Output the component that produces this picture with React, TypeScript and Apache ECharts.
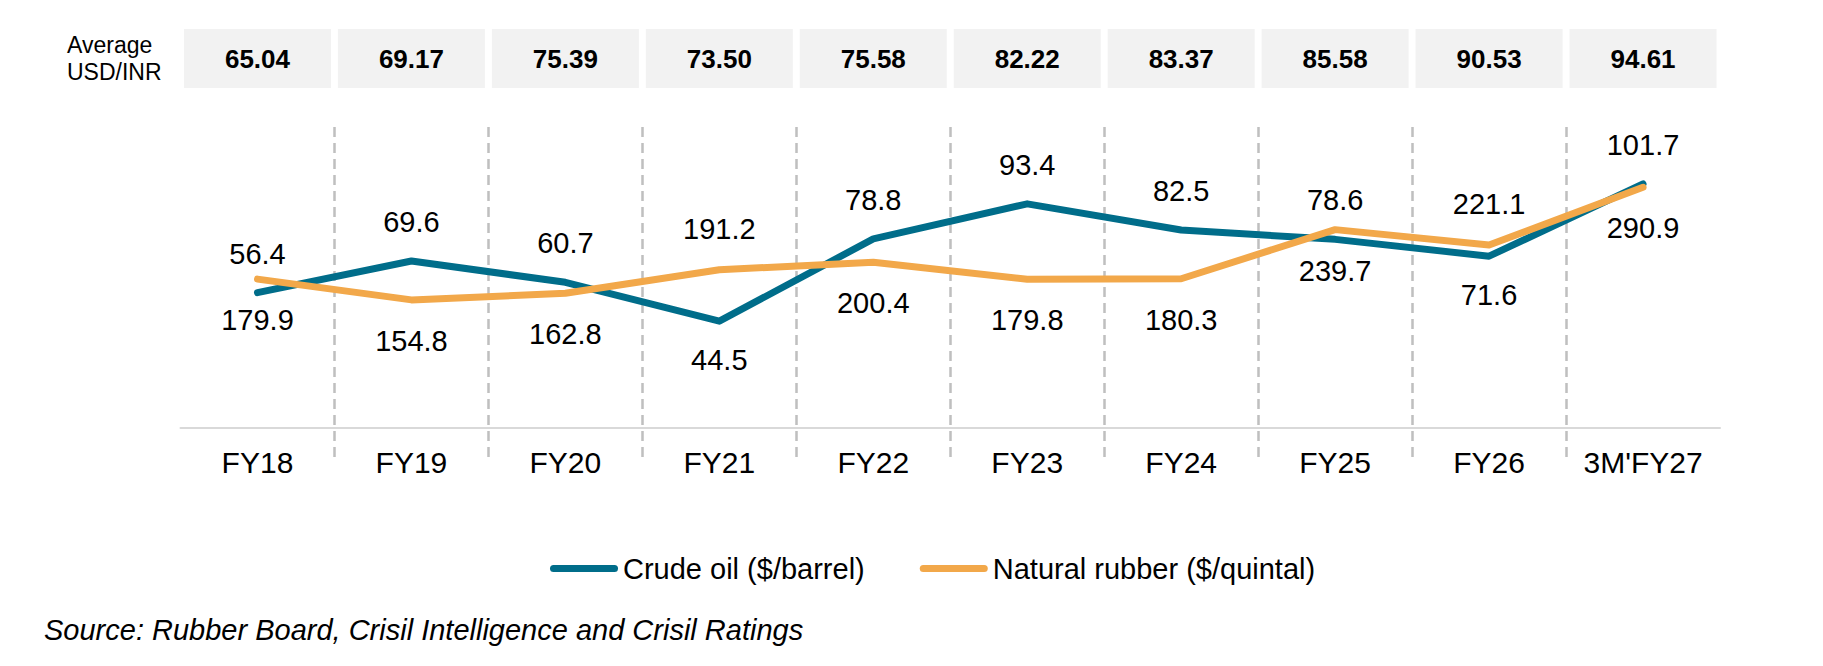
import React, { useEffect, useRef } from "react";
import * as echarts from "echarts";

const categories = ["FY18", "FY19", "FY20", "FY21", "FY22", "FY23", "FY24", "FY25", "FY26", "3M'FY27"];
const crudeOil = [56.4, 69.6, 60.7, 44.5, 78.8, 93.4, 82.5, 78.6, 71.6, 101.7];
const naturalRubber = [179.9, 154.8, 162.8, 191.2, 200.4, 179.8, 180.3, 239.7, 221.1, 290.9];
const usdInr = [65.04, 69.17, 75.39, 73.5, 75.58, 82.22, 83.37, 85.58, 90.53, 94.61];
const crudeLabelsBelow = ["FY21", "FY26"];
const rubberLabelsAbove = ["FY21", "FY26"];
const seriesNames = ["Crude oil ($/barrel)", "Natural rubber ($/quintal)"];

const W = 1823;
const H = 666;
const FONT = "'Liberation Sans', Arial, Helvetica, sans-serif";
const GRID_LEFT = 180.5;
const GRID_RIGHT = 103;
const BAND = (W - GRID_LEFT - GRID_RIGHT) / categories.length;
const CRUDE_COLOR = "#006D8A";
const RUBBER_COLOR = "#F2A84A";

export default function App() {
  const ref = useRef<HTMLDivElement>(null);

  useEffect(() => {
    document.body.style.margin = "0";
    if (!ref.current) return;
    const chart = echarts.init(ref.current, undefined, { renderer: "svg" });

    const labelBase = {
      show: true,
      fontSize: 29,
      color: "#000",
      fontFamily: FONT,
      formatter: (p: any) => Number(p.value).toFixed(1),
    };

    chart.setOption({
      animation: false,
      backgroundColor: "#ffffff",
      textStyle: { fontFamily: FONT },
      grid: [
        { left: GRID_LEFT, right: GRID_RIGHT, top: 140, bottom: 238 },
        { left: GRID_LEFT + BAND, right: GRID_RIGHT + BAND, top: 127, bottom: 206 },
        { left: GRID_LEFT, right: GRID_RIGHT, top: 29, bottom: 578 },
      ],
      xAxis: [
        {
          type: "category",
          gridIndex: 0,
          data: categories,
          boundaryGap: true,
          axisLine: { lineStyle: { color: "#d9d9d9", width: 2 } },
          axisTick: { show: false },
          axisLabel: { fontSize: 30, color: "#000", margin: 19, interval: 0, fontFamily: FONT },
          splitLine: { show: false },
        },
        {
          type: "value",
          gridIndex: 1,
          min: 1,
          max: categories.length - 1,
          interval: 1,
          axisLine: { show: false },
          axisTick: { show: false },
          axisLabel: { show: false },
          splitLine: { show: true, lineStyle: { color: "#bfbfbf", width: 2.5, type: [10, 6] } },
        },
        { type: "category", gridIndex: 2, data: categories, show: false },
      ],
      yAxis: [
        { type: "value", gridIndex: 0, min: 0, max: 120, show: false },
        { type: "value", gridIndex: 0, min: 0, max: 348, show: false, position: "right" },
        { type: "value", gridIndex: 1, min: 0, max: 1, show: false },
        { type: "value", gridIndex: 2, min: 0, max: 1, show: false },
      ],
      legend: {
        data: seriesNames,
        left: 545,
        top: 549,
        itemWidth: 68,
        itemHeight: 7,
        itemGap: 55,
        icon: "path://M3.5,0 L64.5,0 A3.5,3.5 0 0 1 64.5,7 L3.5,7 A3.5,3.5 0 0 1 3.5,0 Z",
        textStyle: { fontSize: 29, color: "#000", fontFamily: FONT },
        selectedMode: false,
      },
      graphic: [
        {
          type: "text",
          x: 67,
          y: 58,
          style: {
            text: "Average\nUSD/INR",
            fontSize: 23,
            lineHeight: 27,
            fill: "#000",
            fontFamily: FONT,
            verticalAlign: "middle",
            align: "left",
          },
        },
        {
          type: "text",
          x: 44,
          y: 629.5,
          style: {
            text: "Source: Rubber Board, Crisil Intelligence and Crisil Ratings",
            fontSize: 29,
            fontStyle: "italic",
            fill: "#000",
            fontFamily: FONT,
            verticalAlign: "middle",
            align: "left",
          },
        },
      ],
      series: [
        {
          type: "bar",
          name: "Average USD/INR",
          xAxisIndex: 2,
          yAxisIndex: 3,
          data: usdInr.map(() => 1),
          barWidth: 147,
          silent: true,
          itemStyle: { color: "#f2f2f2" },
          label: {
            show: true,
            position: "inside",
            fontSize: 26,
            fontWeight: "bold",
            color: "#000",
            fontFamily: FONT,
            formatter: (p: any) => usdInr[p.dataIndex].toFixed(2),
          },
        },
        {
          type: "line",
          name: seriesNames[0],
          xAxisIndex: 0,
          yAxisIndex: 0,
          data: crudeOil.map((v, i) => ({
            value: v,
            label: crudeLabelsBelow.includes(categories[i])
              ? { position: "bottom", distance: 24 }
              : { position: "top", distance: 24 },
          })),
          symbol: "circle",
          symbolSize: 1,
          itemStyle: { color: CRUDE_COLOR },
          lineStyle: { color: CRUDE_COLOR, width: 7, cap: "round", join: "round" },
          label: labelBase,
          z: 3,
        },
        {
          type: "line",
          name: seriesNames[1],
          xAxisIndex: 0,
          yAxisIndex: 1,
          data: naturalRubber.map((v, i) => ({
            value: v,
            label: rubberLabelsAbove.includes(categories[i])
              ? { position: "top", distance: 26 }
              : { position: "bottom", distance: 26 },
          })),
          symbol: "circle",
          symbolSize: 1,
          itemStyle: { color: RUBBER_COLOR },
          lineStyle: { color: RUBBER_COLOR, width: 7, cap: "round", join: "round" },
          label: labelBase,
          z: 4,
        },
      ],
    });

    return () => chart.dispose();
  }, []);

  return <div ref={ref} style={{ width: W, height: H }} />;
}
